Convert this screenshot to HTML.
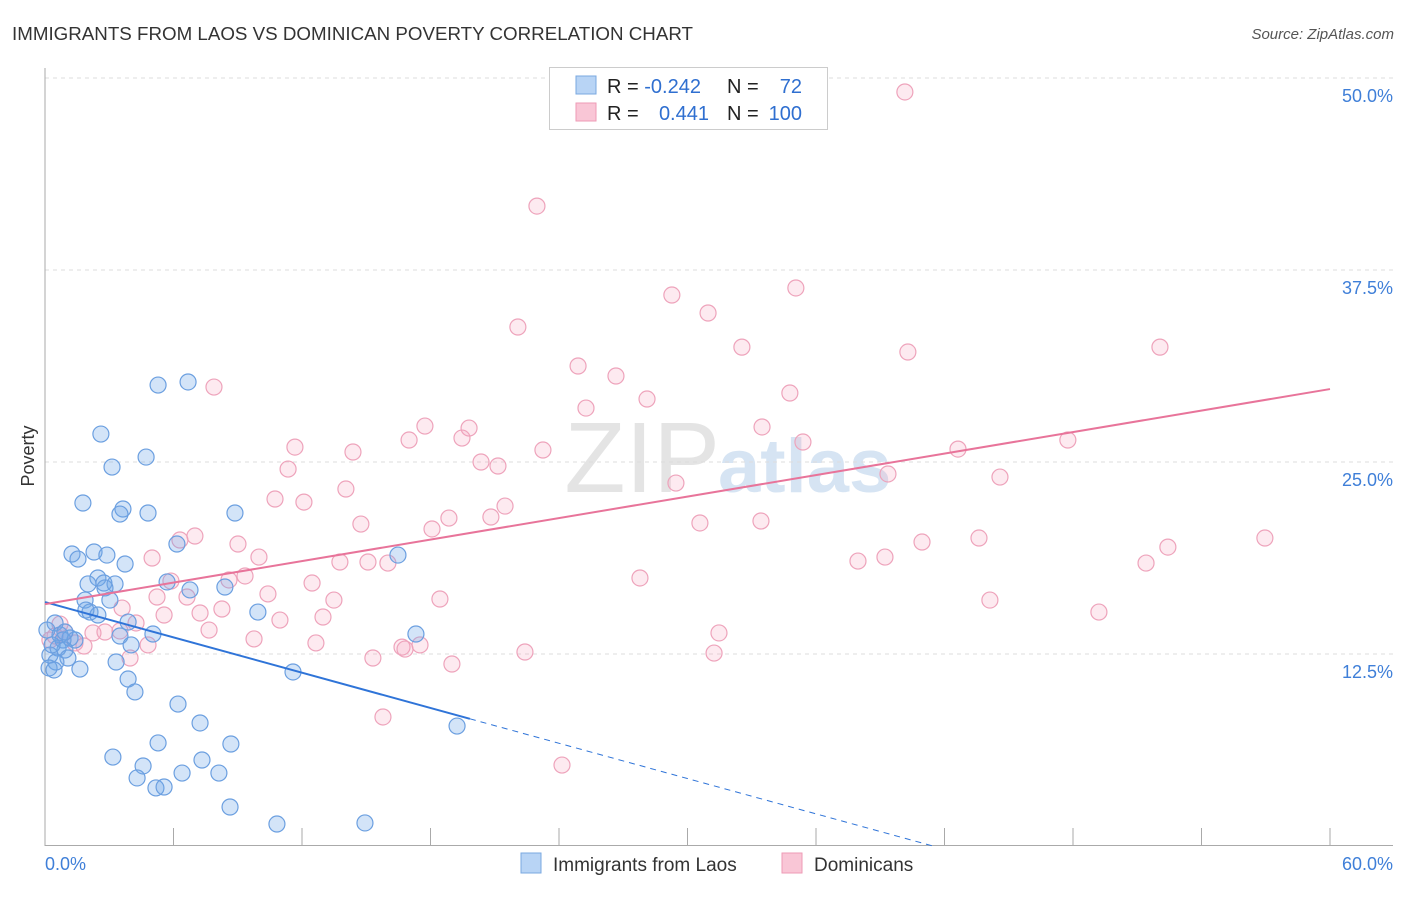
<!DOCTYPE html>
<html><head><meta charset="utf-8"><style>
body{margin:0;background:#fff;font-family:"Liberation Sans",sans-serif;}
svg text{font-family:"Liberation Sans",sans-serif;}
</style></head><body>
<svg id="chart" width="1406" height="892" xmlns="http://www.w3.org/2000/svg">
<text x="12" y="40" font-size="18" fill="#333" textLength="681" lengthAdjust="spacingAndGlyphs">IMMIGRANTS FROM LAOS VS DOMINICAN POVERTY CORRELATION CHART</text>
<text x="1394" y="39" font-size="15" fill="#555" text-anchor="end" font-style="italic">Source: ZipAtlas.com</text>
<text x="720" y="492" font-size="100" fill="#e4e4e4" text-anchor="end" font-family="Liberation Serif">ZIP</text>
<text x="718" y="492" font-size="76" fill="#d6e4f3" font-weight="bold">atlas</text>
<g id="grid"></g>
<g id="axes"></g>
<g id="pts"></g>
<g id="lines"></g>
<text x="34" y="456" font-size="18" fill="#333" text-anchor="middle" transform="rotate(-90 34 456)">Poverty</text>
<g>
<rect x="549.5" y="67.5" width="278" height="62" fill="#fff" stroke="#ccc"/>
<rect x="576" y="76" width="20" height="18" fill="#b8d4f5" stroke="#7aa8e0"/>
<rect x="576" y="103" width="20" height="18" fill="#f9c6d6" stroke="#ee9bb6"/>
<text x="607" y="93" font-size="20" fill="#222">R = <tspan fill="#2f6fd0">-0.242</tspan></text>
<text x="727" y="93" font-size="20" fill="#222">N = </text><text x="802" y="93" font-size="20" fill="#2f6fd0" text-anchor="end">72</text>
<text x="607" y="120" font-size="20" fill="#222">R = </text><text x="709" y="120" font-size="20" fill="#2f6fd0" text-anchor="end">0.441</text>
<text x="727" y="120" font-size="20" fill="#222">N = </text><text x="802" y="120" font-size="20" fill="#2f6fd0" text-anchor="end">100</text>
</g>
<g>
<rect x="521" y="853" width="20" height="20" fill="#b8d4f5" stroke="#7aa8e0"/>
<text x="553" y="871" font-size="19" fill="#333">Immigrants from Laos</text>
<rect x="782" y="853" width="20" height="20" fill="#f9c6d6" stroke="#ee9bb6"/>
<text x="814" y="871" font-size="19" fill="#333">Dominicans</text>
</g>
</svg>
<script>
const xTicks=[0,6,12,18,24,30,36,42,48,54,60];
const yTicks=[12.5,25,37.5,50];
const yTickLabels=["12.5%","25.0%","37.5%","50.0%"];
const laosX=[2.61,5.28,6.68,3.13,4.72,1.77,3.64,3.50,4.81,8.87,1.26,2.29,1.54,2.89,3.74,2.47,2.01,2.75,3.27,5.70,2.80,6.77,8.40,6.16,1.87,3.03,2.10,2.47,9.94,1.91,16.48,0.47,3.88,0.09,0.70,1.17,0.84,1.40,3.50,5.04,4.02,0.61,0.93,0.23,1.07,0.51,3.32,0.19,0.42,1.63,11.58,3.88,4.20,6.21,7.24,17.32,19.24,3.17,5.28,8.68,4.58,7.33,6.40,8.12,4.30,5.18,5.56,8.64,10.83,14.94,0.93,0.33];
const laosY=[26.82,30.01,30.21,24.67,25.32,22.33,21.94,21.61,21.68,21.68,19.01,19.14,18.68,18.94,18.36,17.45,17.06,17.12,17.06,17.19,16.80,16.67,16.86,19.66,16.01,16.01,15.23,15.04,15.23,15.36,18.94,14.52,14.58,14.06,13.74,13.54,13.41,13.41,13.67,13.80,13.09,12.89,12.76,12.43,12.24,11.98,11.98,11.59,11.46,11.52,11.33,10.87,10.03,9.24,8.01,13.80,7.81,5.79,6.71,6.64,5.21,5.60,4.75,4.75,4.43,3.78,3.84,2.54,1.43,1.50,13.93,13.09];
const domX=[40.15,22.97,29.27,35.06,22.08,30.96,32.54,40.29,52.06,24.89,26.66,7.89,28.11,25.26,34.78,17.74,19.80,33.48,35.39,11.67,17.00,19.47,14.38,23.25,20.36,21.15,11.35,29.46,39.36,44.59,47.76,42.63,14.05,10.74,12.09,21.48,20.82,18.86,18.07,14.75,30.58,33.43,56.96,43.61,40.95,52.43,39.22,37.96,51.41,7.00,6.30,9.01,5.00,9.99,13.77,15.08,16.01,27.78,5.88,8.59,9.34,12.47,6.63,5.23,10.41,13.49,18.44,44.12,49.21,3.60,5.56,7.24,8.26,12.98,10.97,4.25,3.50,2.24,2.80,7.66,4.81,9.76,12.65,16.67,17.51,16.81,31.47,31.24,22.41,19.00,15.31,3.97,1.82,0.47,0.23,0.93,15.78,24.14,0.70,1.40];
const domY=[49.09,41.66,35.87,36.33,33.79,34.70,32.48,32.16,32.48,31.25,30.60,29.88,29.10,28.51,29.49,27.34,27.21,27.28,26.30,25.97,26.43,26.56,25.65,25.78,25.00,24.74,24.54,23.63,24.22,24.02,26.43,25.84,23.24,22.59,22.39,22.13,21.42,21.35,20.64,20.96,21.03,21.16,20.05,20.05,19.79,19.46,18.81,18.55,18.42,20.18,19.92,19.66,18.75,18.81,18.49,18.49,18.42,17.45,17.25,17.32,17.58,17.12,16.21,16.21,16.41,16.01,16.08,16.01,15.23,15.49,15.04,15.17,15.43,14.91,14.71,14.52,14.00,13.87,13.93,14.06,13.09,13.48,13.22,12.95,13.09,12.82,13.87,12.56,12.63,11.85,12.24,12.24,13.02,13.67,13.41,13.93,8.40,5.27,14.45,13.22];
const laosTrend=[15.88,-0.383];
const domTrend=[15.75,0.2333];
const NS="http://www.w3.org/2000/svg";
const X=v=>45+v/60*1285, Y=v=>846-v/12.5*192;
function mk(t,a,p){const e=document.createElementNS(NS,t);for(const k in a)e.setAttribute(k,a[k]);p.appendChild(e);return e;}
const grid=document.getElementById('grid'),axes=document.getElementById('axes'),pts=document.getElementById('pts'),lines=document.getElementById('lines');
yTicks.forEach((t,i)=>{
 const l=mk('line',{x1:45,x2:1393,y1:Y(t),y2:Y(t),stroke:'#ddd','stroke-dasharray':'4,4'},grid);
 
 
 const tx=mk('text',{x:1393,y:Y(t)+24,'font-size':18,fill:'#3f7fd8','text-anchor':'end'},axes);
 tx.textContent=yTickLabels[i];
 
 
});
const ya=mk('line',{x1:45,x2:45,y1:68,y2:846,stroke:'#aaa'},axes);


const xa=mk('line',{x1:45,x2:1393,y1:845.5,y2:845.5,stroke:'#aaa'},axes);


xTicks.forEach(t=>{
 const l=mk('line',{x1:X(t),x2:X(t),y1:828,y2:846,stroke:'#aaa'},axes);
 
 
});
[[0,'0.0%','start',45],[60,'60.0%','end',1393]].forEach(d=>{
 const tx=mk('text',{x:d[3],y:870,'font-size':18,fill:'#3f7fd8','text-anchor':d[2]},axes);
 tx.textContent=d[1];
 
 
});
domX.forEach((x,i)=>{
 const c=mk('circle',{cx:X(x),cy:Y(domY[i]),r:8,fill:'rgba(244,160,188,0.22)',stroke:'#eea3bb','stroke-width':1.2},pts);
 
 
});
laosX.forEach((x,i)=>{
 const c=mk('circle',{cx:X(x),cy:Y(laosY[i]),r:8,fill:'rgba(110,165,232,0.3)',stroke:'#6b9fe0','stroke-width':1.2},pts);
 
 
});
const lx1=19.84, lx2=-laosTrend[0]/laosTrend[1];
const l1=mk('line',{x1:X(0),y1:Y(laosTrend[0]),x2:X(lx1),y2:Y(laosTrend[0]+laosTrend[1]*lx1),stroke:'#2f74d8','stroke-width':2},lines);


const l2=mk('line',{x1:X(lx1),y1:Y(laosTrend[0]+laosTrend[1]*lx1),x2:X(lx2),y2:Y(0),stroke:'#2f74d8','stroke-width':1,'stroke-dasharray':'6,5'},lines);


const l3=mk('line',{x1:X(0),y1:Y(domTrend[0]),x2:X(60),y2:Y(domTrend[0]+domTrend[1]*60),stroke:'#e8749a','stroke-width':2},lines);


</script>
</body></html>
